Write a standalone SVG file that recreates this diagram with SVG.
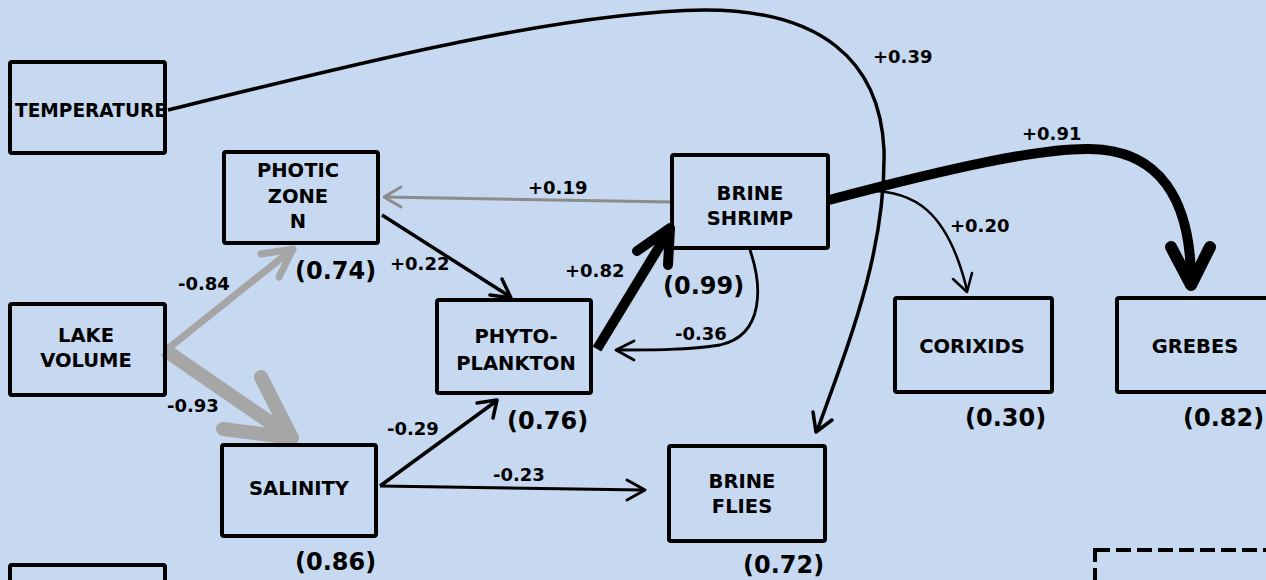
<svg xmlns="http://www.w3.org/2000/svg" width="1266" height="580" viewBox="0 0 1266 580">
<style>
.bg{fill:#c6d9f0}
.box{fill:none;stroke:#000;stroke-width:4;stroke-linejoin:round}
.dash{fill:none;stroke:#000;stroke-width:4;stroke-dasharray:15 6}
.lbl{font-family:"DejaVu Sans","Liberation Sans",sans-serif;font-weight:bold;font-size:19.5px;fill:#000;text-anchor:middle}
.ed{font-family:"DejaVu Sans","Liberation Sans",sans-serif;font-weight:bold;font-size:18px;fill:#000}
.r2{font-family:"DejaVu Sans","Liberation Sans",sans-serif;font-weight:bold;font-size:24px;fill:#000}
.ln{fill:none;stroke:#000;stroke-linecap:butt;stroke-linejoin:round}
.hd{fill:none;stroke:#000;stroke-linecap:round;stroke-linejoin:round}
.gr{stroke:#8c8c8c}
.lg{stroke:#a6a6a6}
</style>
<rect class="bg" x="0" y="0" width="1266" height="580"/>

<g id="connectors">
  <!-- temperature -> brine flies -->
  <path class="ln" stroke-width="3.5" d="M168,110 C350,65 560,12 705,10 C820,10 880,60 884,150 C886,250 850,340 817,431"/>
  <path class="hd" stroke-width="3.5" d="M813,412 L816,432 L832,420"/>
  <!-- brine shrimp -> grebes -->
  <path class="ln" stroke-width="10" d="M829,200 C950,168 1040,148 1090,149 C1160,150 1190,200 1191,278"/>
  <path class="hd" stroke-width="12" d="M1171,247 L1191,285 L1210,247"/>
  <!-- brine shrimp -> corixids -->
  <path class="ln" stroke-width="2.5" d="M860,191 C915,188 948,212 967,290"/>
  <path class="hd" stroke-width="2.5" d="M953,279 L967,292 L972,273"/>
  <!-- brine shrimp -> photic zone (gray) -->
  <path class="ln gr" stroke-width="3" d="M672,202 L385,197"/>
  <path class="hd gr" stroke-width="3" d="M401,187 L384,197 L401,207"/>
  <!-- photic -> phyto -->
  <path class="ln" stroke-width="3.5" d="M382,215 L509,296"/>
  <path class="hd" stroke-width="3.5" d="M490,295 L511,298 L502,279"/>
  <!-- phyto -> brine shrimp -->
  <path class="ln" stroke-width="10" d="M597,349 L667,234"/>
  <path class="hd" stroke-width="10" d="M637,251 L670,228 L668,265"/>
  <!-- brine shrimp -> phyto (curved) -->
  <path class="ln" stroke-width="2.8" d="M750,250 C762,285 765,335 720,345 C690,350 650,350 618,350"/>
  <path class="hd" stroke-width="2.8" d="M634,341 L616,350 L634,360"/>
  <!-- lake volume -> photic (gray) -->
  <path class="ln lg" stroke-width="7" d="M165,351 L289,252"/>
  <path class="hd lg" stroke-width="7" d="M261,254 L293,249 L279,277"/>
  <!-- lake volume -> salinity (gray) -->
  <path class="ln lg" stroke-width="14" d="M165,350 L284,432"/>
  <path class="hd lg" stroke-width="14" d="M261,377 L292,438 L223,429"/>
  <!-- salinity -> phyto -->
  <path class="ln" stroke-width="3.5" d="M380,486 L495,402"/>
  <path class="hd" stroke-width="3.5" d="M477,403 L497,400 L493,418"/>
  <!-- salinity -> brine flies -->
  <path class="ln" stroke-width="3" d="M380,486 L643,490"/>
  <path class="hd" stroke-width="3" d="M627,480 L645,490 L627,500"/>

  <!-- edge labels -->
  <text class="ed" x="873" y="63">+0.39</text>
  <text class="ed" x="1022" y="140">+0.91</text>
  <text class="ed" x="528" y="194">+0.19</text>
  <text class="ed" x="390" y="270">+0.22</text>
  <text class="ed" x="950" y="232">+0.20</text>
  <text class="ed" x="565" y="277">+0.82</text>
  <text class="ed" x="675" y="340">-0.36</text>
  <text class="ed" x="178" y="290">-0.84</text>
  <text class="ed" x="167" y="412">-0.93</text>
  <text class="ed" x="387" y="435">-0.29</text>
  <text class="ed" x="493" y="481">-0.23</text>
</g>

<g id="temperature">
  <rect class="box" x="10" y="62" width="155" height="91" rx="2"/>
  <text class="lbl" x="91" y="117" textLength="152" lengthAdjust="spacingAndGlyphs">TEMPERATURE</text>
</g>
<g id="photic-zone">
  <rect class="box" x="224" y="152" width="154" height="91" rx="2"/>
  <text class="lbl" x="298" y="177">PHOTIC</text>
  <text class="lbl" x="298" y="203">ZONE</text>
  <text class="lbl" x="298" y="228">N</text>
  <text class="r2" x="295" y="279">(0.74)</text>
</g>
<g id="lake-volume">
  <rect class="box" x="10" y="304" width="155" height="91" rx="2"/>
  <text class="lbl" x="86" y="342">LAKE</text>
  <text class="lbl" x="86" y="367">VOLUME</text>
</g>
<g id="salinity">
  <rect class="box" x="222" y="445" width="154" height="91" rx="2"/>
  <text class="lbl" x="299" y="495">SALINITY</text>
  <text class="r2" x="295" y="570">(0.86)</text>
</g>
<g id="bottom-left">
  <rect class="box" x="10" y="565" width="155" height="100" rx="2"/>
</g>
<g id="phytoplankton">
  <rect class="box" x="437" y="300" width="154" height="93" rx="2"/>
  <text class="lbl" x="516" y="343">PHYTO-</text>
  <text class="lbl" x="516" y="370">PLANKTON</text>
  <text class="r2" x="507" y="429">(0.76)</text>
</g>
<g id="brine-shrimp">
  <rect class="box" x="672" y="155" width="156" height="93" rx="2"/>
  <text class="lbl" x="750" y="200">BRINE</text>
  <text class="lbl" x="750" y="225">SHRIMP</text>
  <text class="r2" x="663" y="294">(0.99)</text>
</g>
<g id="corixids">
  <rect class="box" x="895" y="298" width="157" height="94" rx="2"/>
  <text class="lbl" x="972" y="353">CORIXIDS</text>
  <text class="r2" x="965" y="426">(0.30)</text>
</g>
<g id="grebes">
  <rect class="box" x="1117" y="298" width="157" height="94" rx="2"/>
  <text class="lbl" x="1195" y="353">GREBES</text>
  <text class="r2" x="1183" y="426">(0.82)</text>
</g>
<g id="brine-flies">
  <rect class="box" x="669" y="446" width="156" height="95" rx="2"/>
  <text class="lbl" x="742" y="488">BRINE</text>
  <text class="lbl" x="742" y="513">FLIES</text>
  <text class="r2" x="743" y="573">(0.72)</text>
</g>
<g id="dashed-box">
  <rect class="dash" x="1095" y="550" width="200" height="100"/>
</g>
</svg>
